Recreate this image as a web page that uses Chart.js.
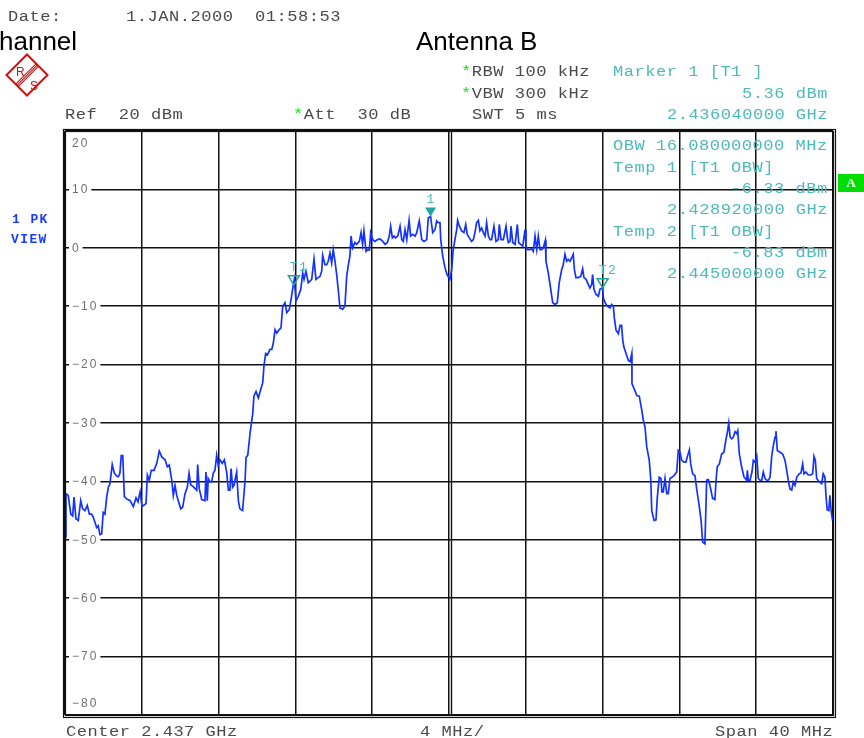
<!DOCTYPE html>
<html>
<head>
<meta charset="utf-8">
<title>Antenna B spectrum</title>
<script src="https://cdn.jsdelivr.net/npm/chart.js@4.4.0/dist/chart.umd.min.js"></script>
<style>
  html, body { margin: 0; padding: 0; background: #fff; }
  #wrap { position: relative; width: 864px; height: 738px; overflow: hidden; }
  #wrap canvas { position: absolute; left: 0; top: 0; }
  .t { position: absolute; font: 14px "Liberation Mono", monospace; letter-spacing: 0.4px;
       line-height: 16px; white-space: pre; color: #4a4a4a;
       transform: scaleX(1.22); transform-origin: 0 0; }
  .c { color: #4dbaba; }
  .g { color: #10dd10; }
  .big { position: absolute; font: 26px "Liberation Sans", Arial, sans-serif; line-height: 30px;
         white-space: pre; color: #000; }
  .view { position: absolute; font: bold 13px "Liberation Mono", monospace; letter-spacing: 1.4px;
          line-height: 16px; color: #1a3cff; }
  #abox { position: absolute; left: 838px; top: 174px; width: 26px; height: 18px; background: #00dd00;
          color: #fff; font: bold 13px "Liberation Serif", serif; line-height: 18px; text-align: center; }
</style>
</head>
<body>
<div id="wrap">
  <canvas id="spec" width="864" height="738"></canvas>

  <div class="t" style="left:8px;top:9px">Date:      1.JAN.2000  01:58:53</div>
  <div class="big" style="left:-1px;top:26px">hannel</div>
  <div class="big" style="left:416px;top:26px">Antenna B</div>

  <svg style="position:absolute;left:5px;top:53px" width="44" height="44" viewBox="0 0 44 44">
    <polygon points="22,1.5 42.5,22 22,42.5 1.5,22" fill="none" stroke="#cc1010" stroke-width="2"/>
    <line x1="31.2" y1="10.7" x2="10.7" y2="31.2" stroke="#cc1010" stroke-width="1.1"/>
    <line x1="32.4" y1="11.9" x2="11.9" y2="32.4" stroke="#cc1010" stroke-width="1.1"/>
    <line x1="33.6" y1="13.1" x2="13.1" y2="33.6" stroke="#cc1010" stroke-width="1.1"/>
    <text x="11" y="23" font-family="Liberation Sans" font-size="12" fill="#cc1010">R</text>
    <text x="25" y="37" font-family="Liberation Sans" font-size="12" fill="#cc1010">S</text>
  </svg>

  <div class="t" style="left:65px;top:107px">Ref  20 dBm</div>
  <div class="t" style="left:293px;top:107px"><span class="g">*</span>Att  30 dB</div>
  <div class="t" style="left:461px;top:64px"><span class="g">*</span>RBW 100 kHz</div>
  <div class="t" style="left:461px;top:86px"><span class="g">*</span>VBW 300 kHz</div>
  <div class="t" style="left:472px;top:107px">SWT 5 ms</div>

  <div class="t c" style="left:613px;top:64px">Marker 1 [T1 ]</div>
  <div class="t c" style="left:742px;top:86px">5.36 dBm</div>
  <div class="t c" style="left:667px;top:107px">2.436040000 GHz</div>

  <div class="t c" style="left:613px;top:138px">OBW 16.080000000 MHz</div>
  <div class="t c" style="left:613px;top:160px">Temp 1 [T1 OBW]</div>
  <div class="t c" style="left:731px;top:181px">-6.33 dBm</div>
  <div class="t c" style="left:667px;top:202px">2.428920000 GHz</div>
  <div class="t c" style="left:613px;top:224px">Temp 2 [T1 OBW]</div>
  <div class="t c" style="left:731px;top:245px">-6.83 dBm</div>
  <div class="t c" style="left:667px;top:266px">2.445000000 GHz</div>

  <div id="abox">A</div>
  <div class="view" style="left:12px;top:212px">1 PK</div>
  <div class="view" style="left:11px;top:232px">VIEW</div>

  <div class="t" style="left:66px;top:724px">Center 2.437 GHz</div>
  <div class="t" style="left:420px;top:724px">4 MHz/</div>
  <div class="t" style="left:715px;top:724px">Span 40 MHz</div>
</div>

<script>
// trace readings, frequency in MHz and level in dBm
const freqMHz = [
  2417.00, 2417.05, 2417.17, 2417.30, 2417.40, 2417.47, 2417.57, 2417.69, 2417.82, 2417.92,
  2418.04, 2418.16, 2418.27, 2418.39, 2418.47, 2418.65, 2418.73, 2418.82, 2418.91, 2418.99,
  2419.08, 2419.17, 2419.26, 2419.34, 2419.46, 2419.57, 2419.69, 2419.78, 2419.86, 2419.93,
  2420.01, 2420.09, 2420.21, 2420.39, 2420.56, 2420.70, 2420.80, 2420.91, 2421.01, 2421.22,
  2421.29, 2421.39, 2421.49, 2421.64, 2421.78, 2421.91, 2422.04, 2422.21, 2422.33, 2422.43,
  2422.56, 2422.64, 2422.73, 2422.82, 2422.90, 2423.03, 2423.13, 2423.25, 2423.37, 2423.46,
  2423.55, 2423.68, 2423.86, 2423.91, 2423.99, 2424.12, 2424.29, 2424.34, 2424.41, 2424.46,
  2424.55, 2424.64, 2424.72, 2424.81, 2424.90, 2424.98, 2425.07, 2425.19, 2425.30, 2425.42,
  2425.51, 2425.59, 2425.65, 2425.73, 2425.80, 2425.94, 2426.03, 2426.11, 2426.25, 2426.38,
  2426.43, 2426.52, 2426.64, 2426.78, 2426.84, 2426.95, 2427.07, 2427.19, 2427.30, 2427.36,
  2427.45, 2427.54, 2427.68, 2427.77, 2427.85, 2427.94, 2428.03, 2428.16, 2428.25, 2428.34,
  2428.46, 2428.55, 2428.68, 2428.77, 2428.89, 2428.94, 2429.03, 2429.15, 2429.28, 2429.38,
  2429.45, 2429.55, 2429.67, 2429.85, 2429.97, 2430.07, 2430.19, 2430.28, 2430.37, 2430.42,
  2430.54, 2430.63, 2430.71, 2430.80, 2430.89, 2430.97, 2431.06, 2431.15, 2431.23, 2431.32,
  2431.46, 2431.58, 2431.67, 2431.76, 2431.84, 2431.90, 2431.98, 2432.10, 2432.19, 2432.33,
  2432.42, 2432.50, 2432.57, 2432.68, 2432.77, 2432.85, 2432.92, 2433.03, 2433.15, 2433.27,
  2433.41, 2433.55, 2433.67, 2433.79, 2433.89, 2433.96, 2434.05, 2434.14, 2434.22, 2434.33,
  2434.45, 2434.54, 2434.62, 2434.71, 2434.80, 2434.92, 2435.00, 2435.11, 2435.23, 2435.32,
  2435.45, 2435.58, 2435.70, 2435.84, 2435.92, 2436.04, 2436.15, 2436.27, 2436.36, 2436.44,
  2436.53, 2436.57, 2436.67, 2436.79, 2436.91, 2437.05, 2437.14, 2437.22, 2437.31, 2437.40,
  2437.45, 2437.54, 2437.66, 2437.78, 2437.87, 2437.95, 2438.06, 2438.18, 2438.27, 2438.35,
  2438.44, 2438.53, 2438.61, 2438.70, 2438.79, 2438.88, 2438.96, 2439.05, 2439.14, 2439.22,
  2439.34, 2439.45, 2439.57, 2439.62, 2439.71, 2439.83, 2439.97, 2440.04, 2440.09, 2440.18,
  2440.23, 2440.32, 2440.44, 2440.56, 2440.63, 2440.73, 2440.84, 2440.96, 2441.01, 2441.08,
  2441.18, 2441.31, 2441.39, 2441.48, 2441.57, 2441.65, 2441.74, 2441.83, 2441.91, 2442.02,
  2442.05, 2442.17, 2442.30, 2442.40, 2442.52, 2442.64, 2442.74, 2442.87, 2442.95, 2443.04,
  2443.13, 2443.21, 2443.30, 2443.39, 2443.47, 2443.53, 2443.61, 2443.73, 2443.86, 2443.96,
  2444.03, 2444.14, 2444.26, 2444.34, 2444.43, 2444.48, 2444.55, 2444.66, 2444.78, 2444.86,
  2445.00, 2445.04, 2445.13, 2445.25, 2445.39, 2445.47, 2445.56, 2445.61, 2445.70, 2445.82,
  2445.91, 2445.99, 2446.05, 2446.11, 2446.22, 2446.34, 2446.43, 2446.52, 2446.53, 2446.64,
  2446.78, 2446.91, 2447.04, 2447.12, 2447.21, 2447.30, 2447.43, 2447.51, 2447.56, 2447.68,
  2447.78, 2447.85, 2447.95, 2448.04, 2448.09, 2448.16, 2448.25, 2448.34, 2448.42, 2448.51,
  2448.60, 2448.72, 2448.86, 2448.94, 2449.03, 2449.12, 2449.24, 2449.34, 2449.41, 2449.52,
  2449.59, 2449.69, 2449.81, 2449.90, 2450.04, 2450.13, 2450.21, 2450.33, 2450.42, 2450.51,
  2450.59, 2450.73, 2450.85, 2450.91, 2450.97, 2451.08, 2451.20, 2451.32, 2451.43, 2451.49,
  2451.57, 2451.64, 2451.72, 2451.81, 2451.90, 2451.98, 2452.04, 2452.12, 2452.24, 2452.36,
  2452.50, 2452.54, 2452.59, 2452.68, 2452.78, 2452.85, 2452.94, 2453.03, 2453.11, 2453.20,
  2453.29, 2453.37, 2453.46, 2453.55, 2453.63, 2453.72, 2453.81, 2453.89, 2453.98, 2454.03,
  2454.10, 2454.24, 2454.38, 2454.50, 2454.59, 2454.67, 2454.76, 2454.85, 2454.93, 2455.02,
  2455.11, 2455.24, 2455.33, 2455.42, 2455.49, 2455.59, 2455.71, 2455.84, 2455.94, 2456.01,
  2456.08, 2456.15, 2456.29, 2456.41, 2456.49, 2456.58, 2456.64, 2456.70, 2456.78, 2456.84,
  2456.90, 2456.98
];
const levelDbm = [
  -49.5, -42.1, -42.4, -45.6, -45.9, -42.7, -46.4, -46.7, -43.3, -44.7,
  -45.0, -44.1, -45.6, -45.6, -46.1, -47.9, -47.6, -49.1, -49.0, -45.3,
  -45.6, -42.7, -41.0, -40.4, -37.1, -38.6, -39.1, -39.2, -38.6, -35.6,
  -35.6, -42.6, -43.0, -43.3, -44.3, -42.8, -43.5, -41.8, -44.3, -43.8,
  -38.9, -39.8, -38.1, -38.1, -36.9, -34.8, -35.8, -36.3, -37.5, -37.2,
  -39.8, -42.4, -40.7, -42.4, -43.3, -44.7, -44.4, -42.1, -41.0, -38.6,
  -40.6, -40.9, -41.5, -37.1, -41.2, -43.1, -43.3, -38.4, -43.3, -39.5,
  -40.1, -40.1, -38.6, -38.1, -35.5, -37.2, -36.3, -36.9, -36.3, -38.4,
  -41.5, -41.5, -37.8, -41.0, -40.7, -38.4, -43.3, -44.7, -45.0, -39.8,
  -35.9, -35.5, -31.7, -28.3, -25.4, -24.6, -25.7, -24.3, -23.1, -20.3,
  -18.1, -18.3, -17.4, -17.4, -16.3, -14.0, -14.6, -14.0, -13.7, -10.0,
  -9.4, -11.1, -10.6, -8.9, -6.3, -5.4, -9.1, -8.3, -7.1, -4.3,
  -5.4, -4.0, -6.0, -5.4, -1.9, -5.4, -5.1, -4.9, -4.0, -1.3,
  -2.9, -2.9, -2.3, -0.9, -2.6, -0.3, -2.3, -4.6, -7.1, -10.3,
  -10.5, -10.0, -4.9, -2.9, -1.4, 2.0, 0.0, 0.9, 0.6, 1.1,
  2.6, 0.6, 2.9, -0.6, -0.3, -0.4, 2.6, 1.4, 1.1, 1.4,
  1.5, 1.1, 0.6, 0.9, 2.0, 3.7, 1.7, 2.0, 1.7, 2.0,
  3.7, 1.4, 1.1, 3.1, 1.4, 4.7, 2.0, 2.3, 2.0, 2.6,
  4.6, 1.4, 1.1, 1.4, 5.1, 5.36, 2.6, 3.1, 4.6, 4.3,
  4.3, 1.4, -1.4, -3.4, -4.7, -5.4, -3.7, -0.3, 1.4, 3.1,
  4.7, 3.7, 2.9, 2.6, 4.0, 2.3, 1.7, 1.1, 1.4, 2.6,
  4.3, 4.7, 2.9, 3.4, 2.6, 2.0, 4.3, 2.0, 1.4, 1.4,
  3.7, 1.1, 1.4, 4.0, 1.4, 1.4, 3.7, 1.7, 0.9, 1.1,
  3.7, 0.9, 0.6, 4.0, 0.9, 0.6, 0.3, 3.1, 0.3, -0.3,
  -0.3, -0.2, -0.6, 2.0, -0.3, 2.0, -0.3, -0.3, 0.0, 1.3,
  -2.3, -4.3, -7.1, -9.4, -9.7, -9.4, -6.0, -3.7, -2.9, -1.1,
  -2.3, -2.0, -2.3, -1.7, -1.1, -3.7, -5.1, -5.1, -4.9, -3.6,
  -5.1, -5.4, -6.3, -6.9, -6.3, -4.6, -7.1, -8.0, -8.3, -7.1,
  -6.83, -8.6, -9.4, -10.0, -10.3, -9.7, -10.0, -12.0, -14.1, -14.7,
  -13.3, -13.3, -15.8, -17.0, -18.1, -19.3, -19.5, -18.1, -23.3, -24.1,
  -25.3, -25.4, -27.8, -29.5, -30.7, -34.1, -36.4, -39.8, -45.0, -46.7,
  -46.6, -42.7, -39.3, -39.5, -41.8, -41.8, -39.5, -42.1, -42.1, -39.5,
  -39.3, -39.0, -38.4, -34.7, -35.0, -36.4, -36.7, -36.7, -35.8, -34.6,
  -37.0, -38.7, -39.0, -41.3, -44.4, -46.7, -50.4, -50.7, -39.8, -39.7,
  -40.7, -42.9, -43.1, -39.8, -37.5, -37.0, -35.3, -35.0, -32.7, -31.8,
  -30.0, -32.4, -32.7, -32.4, -31.5, -31.8, -31.3, -35.3, -37.5, -39.2,
  -39.8, -38.1, -39.8, -39.8, -38.4, -36.4, -36.7, -35.7, -39.5, -39.8,
  -39.8, -38.4, -39.5, -39.8, -39.8, -39.3, -35.6, -33.9, -32.4, -31.4,
  -34.7, -35.0, -35.3, -36.4, -38.1, -39.8, -41.3, -41.5, -40.1, -40.7,
  -39.3, -38.7, -38.6, -37.0, -38.7, -38.4, -38.9, -38.9, -38.7, -35.7,
  -36.4, -39.5, -40.1, -40.4, -38.7, -39.3, -42.7, -44.9, -45.0, -42.4,
  -45.0, -46.7
];

// axes: 40 MHz span round 2437 MHz, 10 dB per division from the 20 dBm reference
const centerMHz = 2437;
const xGridMHz = [2417, 2421, 2425, 2429, 2433, 2437, 2441, 2445, 2449, 2453, 2457];
const yGridDbm = [20, 10, 0, -10, -20, -30, -40, -50, -60, -70, -80];
const yTickLabels = ['20', '10', '0', '\u221210', '\u221220', '\u221230', '\u221240',
                     '\u221250', '\u221260', '\u221270', '\u221280'];

// markers
const markerNames = ['T1', '1', 'T2'];
const markerFreqMHz = [2428.92, 2436.04, 2445.00];
const markerDbm = [-6.33, 5.36, -6.83];
const markerFilled = [false, true, false];

const teal = '#4dbaba';

const analyzerDecor = {
  id: 'analyzerDecor',
  beforeDatasetsDraw(chart) {
    const { ctx, chartArea: a, scales: { x, y } } = chart;
    ctx.save();
    // the centre line is drawn doubled on the instrument
    const cx = Math.round(x.getPixelForValue(centerMHz)) + 2.5;
    ctx.strokeStyle = '#111';
    ctx.lineWidth = 1.4;
    ctx.beginPath();
    ctx.moveTo(cx, a.top);
    ctx.lineTo(cx, a.bottom);
    ctx.stroke();

    // level labels sit inside the grid, on a white patch
    ctx.font = '12px "Liberation Sans", Arial, sans-serif';
    ctx.letterSpacing = '2px';
    ctx.textBaseline = 'middle';
    ctx.textAlign = 'left';
    const last = yGridDbm.length - 1;
    yGridDbm.forEach((v, i) => {
      let py = y.getPixelForValue(v);
      const txt = yTickLabels[i];
      const w = ctx.measureText(txt).width;
      const tx = a.left + 7;
      if (i === 0) py += 12;
      else if (i === last) py -= 12;
      else {
        ctx.fillStyle = '#fff';
        ctx.fillRect(tx - 3, py - 2, w + 5, 4);
      }
      ctx.fillStyle = '#707070';
      ctx.fillText(txt, tx, py + 0.5);
    });
    ctx.restore();
  },
  afterDatasetsDraw(chart) {
    const { ctx, scales: { x, y } } = chart;
    ctx.save();
    ctx.font = '13px "Liberation Mono", monospace';
    ctx.letterSpacing = '1.5px';
    ctx.textBaseline = 'middle';
    ctx.textAlign = 'left';
    markerNames.forEach((name, i) => {
      const px = x.getPixelForValue(markerFreqMHz[i]);
      const py = y.getPixelForValue(markerDbm[i]);
      ctx.beginPath();
      ctx.moveTo(px, py);
      ctx.lineTo(px - 5.5, py - 9);
      ctx.lineTo(px + 5.5, py - 9);
      ctx.closePath();
      if (markerFilled[i]) {
        ctx.fillStyle = '#1fa5a0';
        ctx.fill();
      } else {
        ctx.strokeStyle = '#1fa5a0';
        ctx.lineWidth = 1.5;
        ctx.stroke();
      }
      ctx.fillStyle = teal;
      ctx.fillText(name, px - 4, py - 17);
    });
    ctx.restore();
  },
  afterDraw(chart) {
    const { ctx, chartArea: a } = chart;
    ctx.save();
    ctx.strokeStyle = '#111';
    ctx.lineWidth = 1.2;
    ctx.strokeRect(a.left + 0.5, a.top + 0.5, a.width, a.height);
    ctx.strokeRect(a.left - 1.5, a.top - 1.5, a.width + 4, a.height + 4);
    ctx.restore();
  }
};

const hiddenTicks = { display: false };
const gridStyle = { color: '#111', lineWidth: 1.5, drawTicks: false, tickLength: 0 };

new Chart(document.getElementById('spec').getContext('2d'), {
  type: 'line',
  data: {
    datasets: [{
      label: '1 PK VIEW',
      data: freqMHz.map((f, i) => ({ x: f, y: levelDbm[i] })),
      borderColor: '#1432ff',
      borderWidth: 1.7,
      pointRadius: 0,
      tension: 0,
      fill: false
    }]
  },
  options: {
    responsive: false,
    devicePixelRatio: 1,
    animation: false,
    layout: { padding: { left: 65, top: 131, right: 31, bottom: 23 } },
    plugins: {
      legend: { display: false },
      title: { display: false },
      tooltip: { enabled: false }
    },
    scales: {
      x: {
        type: 'linear',
        min: xGridMHz[0],
        max: xGridMHz[xGridMHz.length - 1],
        afterBuildTicks: s => { s.ticks = xGridMHz.map(v => ({ value: v })); },
        ticks: hiddenTicks,
        grid: gridStyle,
        border: { display: false }
      },
      y: {
        type: 'linear',
        min: yGridDbm[yGridDbm.length - 1],
        max: yGridDbm[0],
        afterBuildTicks: s => { s.ticks = yGridDbm.map(v => ({ value: v })); },
        ticks: hiddenTicks,
        grid: gridStyle,
        border: { display: false }
      }
    }
  },
  plugins: [analyzerDecor]
});
</script>
</body>
</html>
